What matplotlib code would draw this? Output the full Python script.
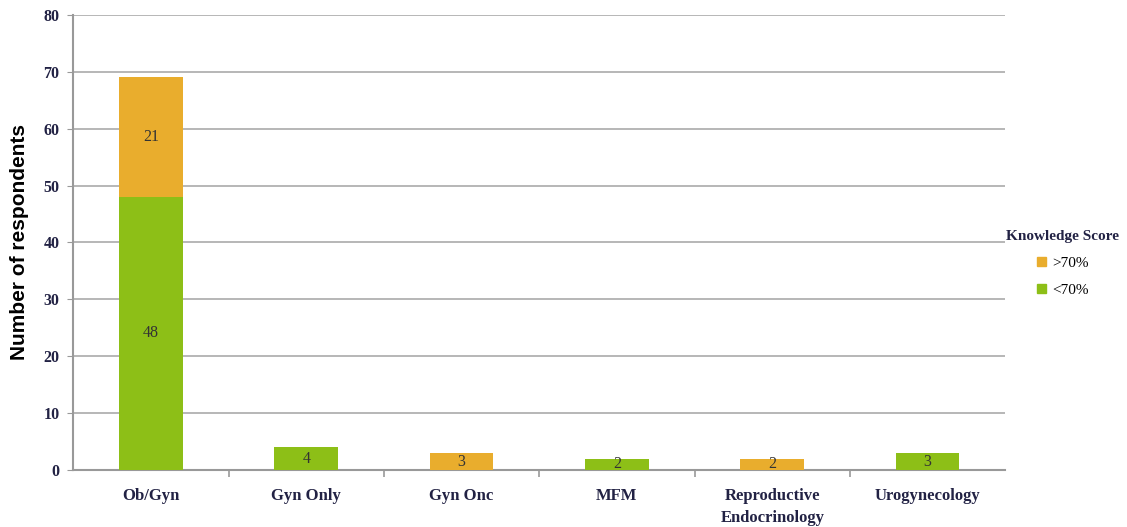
import numpy as np
import matplotlib
matplotlib.use('Agg')
import matplotlib.pyplot as plt
from matplotlib.patches import Patch

categories = ['Ob/Gyn', 'Gyn Only', 'Gyn Onc', 'MFM', 'Reproductive\nEndocrinology', 'Urogynecology']
low = np.array([48, 4, 0, 2, 0, 3])    # <70%
high = np.array([21, 0, 3, 0, 2, 0])   # >70%

GREEN = '#8DBF17'
ORANGE = '#E9AD2D'
SERIF = 'Liberation Serif'

fig = plt.figure(figsize=(11.27, 5.27), dpi=100)
ax = fig.add_axes([0.065, 0.108, 0.827, 0.864])

x = np.arange(len(categories))
w = 0.41
ax.bar(x, low, w, color=GREEN, zorder=3)
ax.bar(x, high, w, bottom=low, color=ORANGE, zorder=3)

# value labels in the middle of each segment
for i in range(len(x)):
    if low[i] > 0:
        ax.text(x[i], low[i] / 2, str(low[i]), ha='center', va='center',
                fontsize=11.5, family=SERIF, color='#333333', zorder=4)
    if high[i] > 0:
        ax.text(x[i], low[i] + high[i] / 2, str(high[i]), ha='center', va='center',
                fontsize=11.5, family=SERIF, color='#333333', zorder=4)

ax.set_xlim(-0.5, len(categories) - 0.5)
ax.set_ylim(0, 80)
ax.set_yticks(np.arange(0, 81, 10))
ax.yaxis.grid(True, color='#AAAAAA', lw=1.2, zorder=0)

ax.set_xticks(x)
ax.set_xticklabels(categories, family=SERIF, fontweight='bold', fontsize=12,
                   color='#222244', linespacing=1.45, va='top')
ax.tick_params(axis='x', length=0, pad=13)
ax.set_xticks(np.arange(0.5, len(categories) - 0.5), minor=True)
ax.tick_params(axis='x', which='minor', length=5, width=1.2, color='#999999', direction='out')
ax.tick_params(axis='y', length=4, color='#999999', pad=6)
for lbl in ax.get_yticklabels():
    lbl.set_family(SERIF)
    lbl.set_fontweight('bold')
    lbl.set_fontsize(11.5)
    lbl.set_color('#222244')

for s in ['top', 'right']:
    ax.spines[s].set_visible(False)
for s in ['left', 'bottom']:
    ax.spines[s].set_color('#999999')
    ax.spines[s].set_linewidth(1.5)

ax.set_ylabel('Number of respondents', fontsize=15, fontweight='bold',
              family='Liberation Sans', labelpad=10)

handles = [Patch(color=ORANGE, label='>70%'), Patch(color=GREEN, label='<70%')]
leg = fig.legend(handles=handles, title='Knowledge Score', loc='center',
                 bbox_to_anchor=(0.943, 0.5), frameon=False,
                 prop={'family': SERIF, 'size': 11},
                 handlelength=0.6, handleheight=0.6, handletextpad=0.4,
                 labelspacing=0.9)
leg.get_title().set_fontproperties({'family': SERIF, 'weight': 'bold', 'size': 11})
leg.get_title().set_color('#222244')

fig.savefig('out.png', dpi=100)
